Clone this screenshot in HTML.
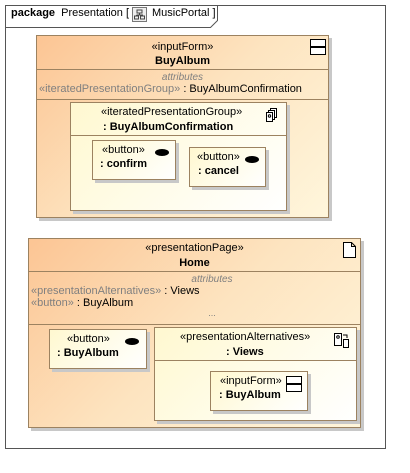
<!DOCTYPE html>
<html><head><style>
body{margin:0;width:410px;height:473px;background:#fff;position:relative;font-family:"Liberation Sans",sans-serif;font-size:11px;color:#000;overflow:hidden}
.a{position:absolute;box-sizing:border-box}
.o{border:1px solid #9c8260;background:linear-gradient(135deg,#fcc594 0%,#fde4c0 50%,#fff6dc 100%);box-shadow:3px 3px 0 #c8c8c8}
.y{border:1px solid #9c8260;background:linear-gradient(135deg,#fff8d0 0%,#fffce8 50%,#fff 100%);box-shadow:3px 3px 0 #c8c8c8}
.ln{position:absolute;left:0;right:0;height:1px;background:#9c8260}
.t{position:absolute;white-space:nowrap}
.c{left:0;right:0;text-align:center}
.b{font-weight:bold}
.g{color:#808080}
.dot{position:absolute;width:14px;height:7px;border-radius:50%;background:#000}
.ff{position:absolute;width:14px;height:6px;border:1px solid #000;background:#fff}
</style></head><body>
<div class="a" style="left:5px;top:5px;width:381px;height:444px;border:1px solid #555"></div>
<svg class="a" style="left:5px;top:5px" width="215" height="23"><path d="M0.5 22.5H205.5L212.5 15.5V0.5" fill="none" stroke="#555"/></svg>
<div class="t" style="left:11px;top:7px;font-size:11px"><b>package</b>&nbsp; Presentation [ </div>
<svg class="a" style="left:132px;top:7px" width="16" height="16"><rect x="0.5" y="0.5" width="14" height="14" fill="#eee" stroke="#777"/><rect x="5" y="3" width="5" height="3" fill="none" stroke="#444"/><rect x="2.5" y="9" width="4" height="3" fill="none" stroke="#444"/><rect x="8.5" y="9" width="4" height="3" fill="none" stroke="#444"/><path d="M7.5 6V8M4.5 8H10.5V9M4.5 8V9" stroke="#444" fill="none"/></svg>
<div class="t" style="left:152px;top:7px">MusicPortal ]</div>

<!-- BuyAlbum -->
<div class="a o" style="left:36px;top:35px;width:293px;height:183px">
 <div class="t c" style="top:5px">«inputForm»</div>
 <div class="t c b" style="top:19px">BuyAlbum</div>
 <div class="ff" style="left:273px;top:3px"></div><div class="ff" style="left:273px;top:11px"></div>
 <div class="ln" style="top:33px"></div>
 <div class="t c g" style="top:36px;font-size:10px;font-style:italic">attributes</div>
 <div class="t" style="left:2px;top:47px"><span class="g">«iteratedPresentationGroup»</span> : BuyAlbumConfirmation</div>
 <div class="ln" style="top:63px"></div>
</div>
<div class="a y" style="left:70px;top:102px;width:217px;height:109px">
 <div class="t" style="left:30px;top:3px">«iteratedPresentationGroup»</div>
 <div class="t b" style="left:32px;top:18px">: BuyAlbumConfirmation</div>
 <svg class="a" style="left:195px;top:5px" width="12" height="14"><rect x="4.5" y="0.5" width="6" height="9" fill="#fff" stroke="#000"/><rect x="2.5" y="2.5" width="6" height="9" fill="#fff" stroke="#000"/><rect x="0.5" y="4.5" width="6" height="9" fill="#fff" stroke="#000"/><circle cx="3.5" cy="8" r="1.2" fill="none" stroke="#000"/></svg>
 <div class="ln" style="top:32px"></div>
</div>
<div class="a y" style="left:92px;top:140px;width:84px;height:40px">
 <div class="t" style="left:9px;top:3px">«button»</div>
 <div class="t b" style="left:7px;top:17px">: confirm</div>
 <div class="dot" style="left:62px;top:8px"></div>
</div>
<div class="a y" style="left:189px;top:147px;width:77px;height:40px">
 <div class="t" style="left:7px;top:3px">«button»</div>
 <div class="t b" style="left:8px;top:17px">: cancel</div>
 <div class="dot" style="left:55px;top:8px"></div>
</div>

<!-- Home -->
<div class="a o" style="left:28px;top:238px;width:333px;height:190px">
 <div class="t c" style="top:3px">«presentationPage»</div>
 <div class="t c b" style="top:18px">Home</div>
 <svg class="a" style="left:314px;top:3px" width="13" height="16"><path d="M0.5 0.5H8.5L12.5 4.5V15.5H0.5Z M8.5 0.5V4.5H12.5" fill="#fff" stroke="#000"/></svg>
 <div class="ln" style="top:32px"></div>
 <div class="t c g" style="top:35px;font-size:10px;font-style:italic;padding-left:35px">attributes</div>
 <div class="t" style="left:2px;top:46px"><span class="g">«presentationAlternatives»</span> : Views</div>
 <div class="t" style="left:2px;top:58px"><span class="g">«button»</span> : BuyAlbum</div>
 <div class="t c g" style="top:69px;font-size:9px;padding-left:35px">...</div>
 <div class="ln" style="top:85px"></div>
</div>
<div class="a y" style="left:49px;top:329px;width:98px;height:40px">
 <div class="t" style="left:17px;top:3px">«button»</div>
 <div class="t b" style="left:7px;top:17px">: BuyAlbum</div>
 <div class="dot" style="left:75px;top:8px"></div>
</div>
<div class="a y" style="left:154px;top:327px;width:203px;height:94px">
 <div class="t" style="left:25px;top:3px">«presentationAlternatives»</div>
 <div class="t b" style="left:71px;top:18px">: Views</div>
 <svg class="a" style="left:179px;top:5px" width="16" height="16"><rect x="0.5" y="0.5" width="7" height="12" fill="#fff" stroke="#000"/><circle cx="4" cy="4" r="1.3" fill="none" stroke="#000"/><rect x="9.5" y="6.5" width="5" height="8" fill="#fff" stroke="#000"/><path d="M9 2H13V5" fill="none" stroke="#000"/></svg>
 <div class="ln" style="top:32px"></div>
</div>
<div class="a y" style="left:210px;top:371px;width:98px;height:40px">
 <div class="t" style="left:9px;top:3px">«inputForm»</div>
 <div class="t b" style="left:8px;top:17px">: BuyAlbum</div>
 <div class="ff" style="left:75px;top:4px"></div><div class="ff" style="left:75px;top:12px"></div>
</div>
</body></html>
